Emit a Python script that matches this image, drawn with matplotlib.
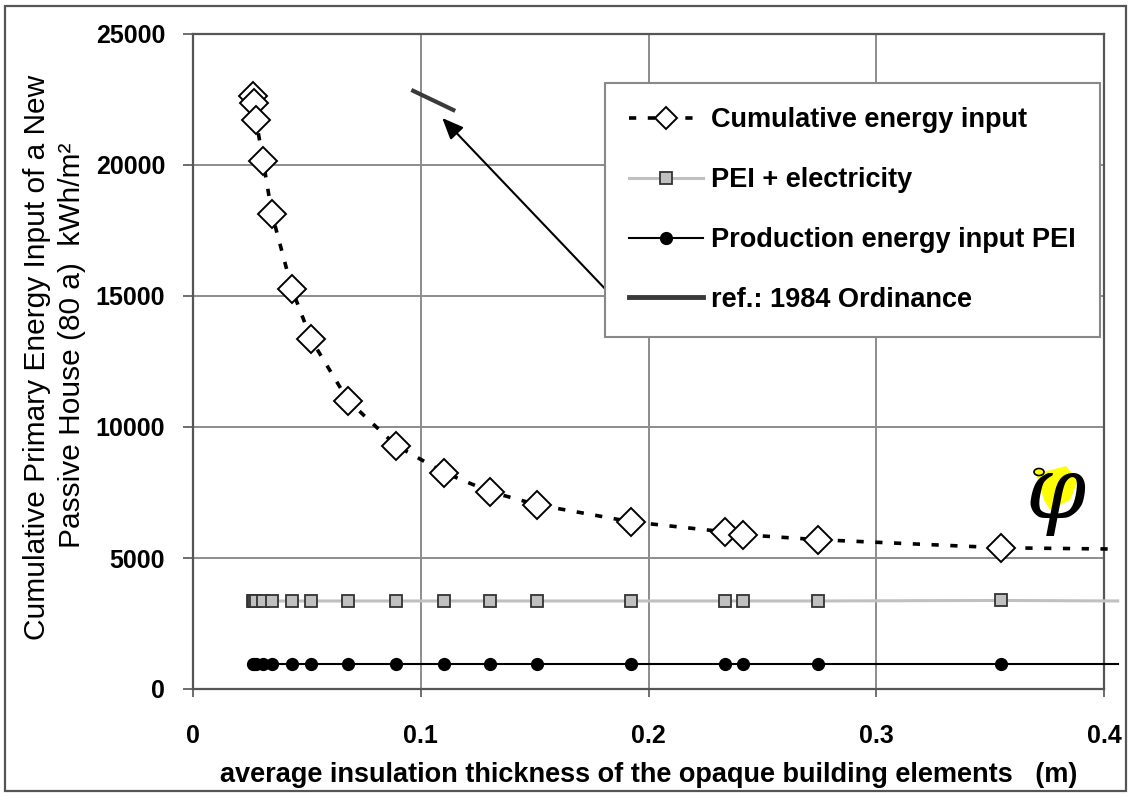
import numpy as np
import matplotlib.pyplot as plt
from matplotlib.patches import Rectangle, Polygon, Circle
from matplotlib.lines import Line2D

# average insulation thickness (m)
thickness = [0.0264, 0.0268, 0.0277, 0.0308, 0.0347, 0.0435, 0.0519, 0.0681,
             0.0892, 0.1103, 0.1305, 0.1512, 0.1925, 0.2334, 0.2413, 0.2743, 0.3547]
# Cumulative energy input (kWh/m2)
cumulative = [22630, 22360, 21710, 20150, 18120, 15250, 13340, 11010,
              9290, 8260, 7530, 7030, 6380, 6000, 5890, 5700, 5390]
# PEI + electricity
pei_elec = [3360, 3360, 3360, 3360, 3360, 3360, 3360, 3360,
            3360, 3360, 3360, 3360, 3360, 3360, 3360, 3360, 3380]
# Production energy input PEI
pei = [960, 960, 960, 960, 960, 960, 960, 960,
       960, 960, 960, 960, 960, 960, 960, 960, 960]

# lines run a bit past the last point (to the right edge)
end_x = 0.406
end_cum = 5340
end_elec = 3360
end_pei = 960

# ref.: 1984 Ordinance (short segment)
ref_x = [0.0967, 0.1143]
ref_y = [22830, 22100]

plt.rcParams['font.family'] = ['Liberation Sans', 'DejaVu Sans']

fig = plt.figure(figsize=(11.32, 7.96), dpi=100)
ax = fig.add_axes([193/1132, 1-689/796, (1104-193)/1132, (689-34)/796])

# grid
ax.set_xlim(0, 0.4)
ax.set_ylim(0, 25000)
ax.set_xticks([0, 0.1, 0.2, 0.3, 0.4])
ax.set_xticklabels(['0', '0.1', '0.2', '0.3', '0.4'])
ax.set_yticks([0, 5000, 10000, 15000, 20000, 25000])
ax.grid(True, color='#8c8c8c', linewidth=1.4, zorder=0)
ax.set_axisbelow(True)
for s in ax.spines.values():
    s.set_color('#555555')
    s.set_linewidth(1.6)
ax.tick_params(axis='x', direction='out', length=6, width=1.2, color='#555555',
               labelsize=18, pad=19)
ax.tick_params(axis='y', direction='out', length=7, width=1.2, color='#555555',
               labelsize=18, pad=13)
for lab in ax.get_xticklabels() + ax.get_yticklabels():
    lab.set_fontweight('bold')

# series
ax.plot(thickness + [end_x], pei + [end_pei], color='black', lw=1.5,
        clip_on=False, zorder=3)
ax.plot(thickness, pei, 'o', color='black', ms=8.5, zorder=4)

ax.plot(thickness + [end_x], pei_elec + [end_elec], color='#c0c0c0', lw=2.2,
        clip_on=False, zorder=3)
ax.plot(thickness, pei_elec, 's', mfc='#c0c0c0', mec='#333333', mew=1.3,
        ms=8, zorder=4)

ax.plot(thickness + [end_x], cumulative + [end_cum], color='black', lw=2.6,
        linestyle=(0, (2, 3.2)), clip_on=False, zorder=3)
ax.plot(thickness, cumulative, 'D', mfc='white', mec='black', mew=1.4,
        ms=14, zorder=5)

ax.plot(ref_x, ref_y, color='#3a3a3a', lw=3, zorder=4)

# arrow from legend to ref line
ax.annotate('', xy=(0.1086, 21870), xytext=(0.1824, 15140),
            arrowprops=dict(arrowstyle='-|>,head_length=1.3,head_width=0.55',
                            color='black', lw=1.5), zorder=6)

# legend
handles = [
    Line2D([], [], color='black', lw=2.6, linestyle=(0, (2, 3.2)), marker='D',
           mfc='white', mec='black', mew=1.4, ms=11),
    Line2D([], [], color='#c0c0c0', lw=2.2, marker='s', mfc='#c0c0c0',
           mec='#333333', mew=1.3, ms=8),
    Line2D([], [], color='black', lw=1.5, marker='o', ms=8.5),
    Line2D([], [], color='#3a3a3a', lw=3.5),
]
labels = ['Cumulative energy input', 'PEI + electricity',
          'Production energy input PEI', 'ref.: 1984 Ordinance']
leg = fig.legend(handles, labels, loc='upper left',
                 bbox_to_anchor=(605/1132, 1-83/796),
                 prop={'weight': 'bold', 'size': 19.5}, frameon=True,
                 fancybox=False, edgecolor='#888888', framealpha=1,
                 handlelength=2.7, handletextpad=0.3, labelspacing=1.25,
                 borderpad=0.9, borderaxespad=0)
leg.get_frame().set_linewidth(1.5)
leg.set_zorder(10)

# axis labels
ax.set_xlabel('average insulation thickness of the opaque building elements   (m)',
              fontsize=19.5, fontweight='bold', labelpad=10)
fig.text(37/1132, 1-357/796, 'Cumulative Primary Energy Input of a New',
         rotation=90, ha='center', va='center', fontsize=21.5,
         family=['Liberation Sans Narrow', 'Liberation Sans'])
fig.text(72/1132, 1-345/796, 'Passive House (80 a)  kWh/m\u00b2',
         rotation=90, ha='center', va='center', fontsize=21.5,
         family=['Liberation Sans Narrow', 'Liberation Sans'])

# logo (phi) near the right end
def pix(px, py):
    return (px/1132, 1 - py/796)

logo_poly = Polygon([pix(1036, 474), pix(1066, 466), pix(1078, 480),
                     pix(1070, 500), pix(1050, 510), pix(1044, 500)],
                    closed=True, transform=fig.transFigure,
                    facecolor='#ffff00', edgecolor='none', zorder=1)
fig.patches.append(logo_poly)
fig.text(1056/1132, 1-495/796, '\u03c6', fontsize=62, style='italic',
         family=['DejaVu Serif'], ha='center', va='center', color='black')
circ = Circle(pix(1039, 472), 5/1132, transform=fig.transFigure,
              facecolor='#ffff00', edgecolor='black', lw=1.2, zorder=2)
fig.patches.append(circ)

# outer frame
fig.patches.append(Rectangle((5/1132, 5/796), 1-11/1132, 1-11/796,
                             transform=fig.transFigure, fill=False,
                             edgecolor='#555555', lw=1.6))

fig.savefig('out.png', dpi=100)
